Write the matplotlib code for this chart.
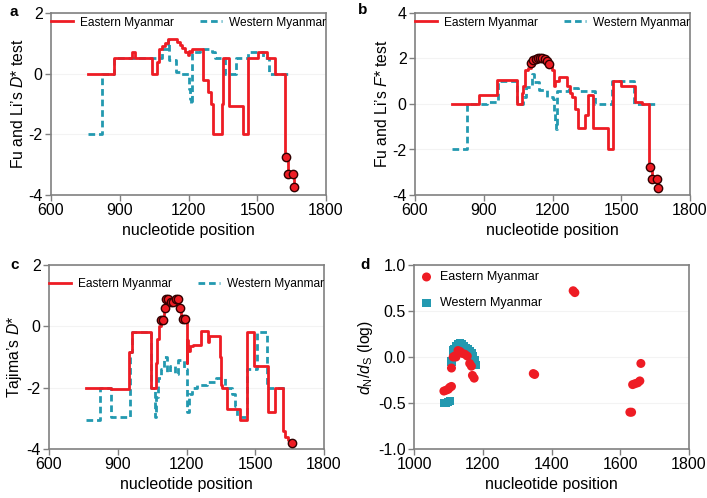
import matplotlib
matplotlib.use("Agg")
import matplotlib.pyplot as plt
from matplotlib.lines import Line2D

plt.rcParams['font.family'] = ['Liberation Sans', 'DejaVu Sans']
plt.rcParams['mathtext.fontset'] = 'custom'
plt.rcParams['mathtext.it'] = 'Liberation Sans:italic'
plt.rcParams['mathtext.rm'] = 'Liberation Sans'

RED = '#ee1c24'
TEAL = '#2399b0'

# ---------- Panel a: Fu and Li's D* ----------
a_east_x = [760, 877, 953, 967, 1040, 1062, 1070, 1084, 1098, 1112, 1150, 1162, 1171, 1185, 1197, 1203, 1207, 1214, 1263, 1285, 1300, 1307, 1346, 1351, 1375, 1381, 1438, 1461, 1466, 1502, 1541, 1577, 1620, 1625, 1632, 1657, 1660]
a_east_y = [0, 0.5, 0.7, 0.5, 0, 0.4, 0.8, 0.9, 1.0, 1.15, 1.05, 0.95, 0.85, 0.7, 0.6, 0.75, 0.7, 0.8, -0.2, -0.6, -1.0, -2.0, -1.0, 0.5, -1.05, -1.05, -2.0, 0.5, 0.5, 0.7, 0.5, 0, -2.75, -2.75, -3.3, -3.3, -3.75]
a_west_x = [760, 822, 877, 1062, 1084, 1111, 1117, 1145, 1165, 1200, 1207, 1213, 1216, 1250, 1302, 1316, 1358, 1408, 1460, 1526, 1552, 1640]
a_west_y = [-2, 0, 0.5, 0.5, 0.8, 1.1, 0.45, 0.05, 0.0, -0.5, -0.85, -1.0, 0.7, 0.8, 0.7, 0.5, 0, 0.5, 0.7, 0.5, 0, 0]
a_mark_x = [1625, 1632, 1657, 1660]
a_mark_y = [-2.75, -3.3, -3.3, -3.75]

# ---------- Panel b: Fu and Li's F* ----------
b_east_x = [760, 879, 960, 1044, 1065, 1073, 1082, 1095, 1105, 1116, 1125, 1170, 1185, 1196, 1206, 1211, 1228, 1262, 1276, 1284, 1298, 1313, 1320, 1343, 1356, 1374, 1378, 1441, 1466, 1499, 1558, 1589, 1619, 1625, 1632, 1655, 1660]
b_east_y = [0, 0.4, 1.05, 0, 0.5, 0.8, 1.5, 1.6, 1.8, 1.85, 1.9, 1.85, 1.75, 1.5, 0.8, 1.0, 1.2, 0.8, 0.5, 0.3, -0.2, -1.05, -1.05, -0.5, 0.4, 0.4, -1.05, -2.0, 1.0, 0.8, 0.1, 0, -2.75, -2.75, -3.3, -3.3, -3.7]
b_west_x = [760, 828, 913, 964, 1044, 1071, 1085, 1110, 1120, 1140, 1178, 1200, 1205, 1210, 1214, 1220, 1272, 1313, 1385, 1458, 1557, 1647]
b_west_y = [-2, 0, 0.1, 1.0, 0, 0.3, 0.75, 1.3, 0.95, 0.6, 0.3, 0.2, -0.4, -0.8, -1.1, 0.55, 0.7, 0.55, 0, 1.0, 0, 0]
b_mark_x = [1106, 1116, 1126, 1136, 1146, 1156, 1166, 1176, 1185, 1625, 1632, 1655, 1660]
b_mark_y = [1.82, 1.93, 1.98, 2.0, 2.0, 2.0, 1.97, 1.9, 1.78, -2.75, -3.3, -3.3, -3.7]

# ---------- Panel c: Tajima's D* ----------
c_east_x = [760, 872, 950, 962, 1043, 1065, 1072, 1080, 1090, 1100, 1108, 1125, 1150, 1168, 1178, 1200, 1203, 1208, 1215, 1229, 1263, 1292, 1297, 1346, 1352, 1357, 1377, 1434, 1466, 1496, 1554, 1584, 1622, 1630, 1644, 1659]
c_east_y = [-2.0, -2.05, -0.85, -0.2, -2.0, -1.2, -0.4, 0.0, 0.22, 0.6, 0.9, 0.8, 0.9, 0.6, 0.25, -1.2, -0.45, -0.8, -0.65, -0.6, -0.15, -0.5, -0.3, -1.0, -1.9, -2.0, -2.7, -3.05, -0.2, -1.3, -2.8, -2.0, -3.4, -3.6, -3.7, -3.8]
c_west_x = [760, 821, 872, 955, 962, 1043, 1062, 1068, 1075, 1090, 1100, 1115, 1130, 1150, 1165, 1190, 1204, 1210, 1222, 1245, 1290, 1330, 1370, 1400, 1410, 1420, 1466, 1506, 1552, 1644]
c_west_y = [-3.05, -2.0, -2.95, -0.85, -0.2, -2.0, -2.95, -2.3, -1.7, -1.4, -1.0, -1.5, -1.3, -1.55, -1.1, -1.4, -2.8, -2.2, -2.0, -1.9, -1.8, -1.7, -2.0, -2.2, -2.6, -2.95, -1.4, -0.2, -2.0, -2.0]
c_mark_x = [1088, 1098, 1104, 1112, 1120, 1132, 1142, 1155, 1164, 1172, 1183, 1195, 1659]
c_mark_y = [0.22, 0.22, 0.6, 0.9, 0.9, 0.78, 0.78, 0.9, 0.9, 0.6, 0.25, 0.25, -3.8]

# ---------- Panel d: dN/dS ----------
d_east_x = [1087, 1094, 1100, 1104, 1109, 1109, 1114, 1118, 1122, 1128, 1134, 1140, 1148, 1155, 1162, 1167, 1170, 1175, 1347, 1351, 1463, 1468, 1628, 1633, 1636, 1643, 1651, 1657, 1660]
d_east_y = [-0.37, -0.36, -0.35, -0.33, -0.32, -0.12, 0.0, 0.01, 0.0, 0.07, 0.06, 0.04, 0.03, 0.01, -0.07, -0.1, -0.2, -0.23, -0.18, -0.19, 0.72, 0.7, -0.6, -0.6, -0.3, -0.29, -0.28, -0.26, -0.07]
d_west_x = [1087, 1093, 1099, 1105, 1109, 1114, 1118, 1123, 1128, 1134, 1140, 1146, 1151, 1157, 1162, 1167, 1172, 1176, 1179]
d_west_y = [-0.5, -0.5, -0.49, -0.48, -0.05, 0.07, 0.09, 0.12, 0.14, 0.15, 0.14, 0.12, 0.1, 0.08, 0.06, 0.04, 0.01, -0.03, -0.09]

fig = plt.figure(figsize=(7.07, 4.98), dpi=100)

W = 275 / 707
axa = fig.add_axes([51 / 707, 1 - 195 / 498, W, 182 / 498])
axb = fig.add_axes([415 / 707, 1 - 195 / 498, W, 182 / 498])
axc = fig.add_axes([49 / 707, 1 - 449 / 498, W, 184 / 498])
axd = fig.add_axes([414 / 707, 1 - 449 / 498, W, 184 / 498])

DASH = (0, (2.4, 1.4))


def style(ax):
    for s in ax.spines.values():
        s.set_color('#808080')
        s.set_linewidth(1.2)
    ax.tick_params(axis='both', direction='out', length=4, width=1, color='#808080',
                   labelsize=11.5, pad=2)
    ax.yaxis.grid(True, color='#f3f3f3', lw=0.8)
    ax.set_axisbelow(True)


def steps(ax, ex, ey, wx, wy, mx, my, ylim, yticks, ylabel, anchor):
    ax.plot(wx, wy, drawstyle='steps-post', color=TEAL, lw=2.0, ls=DASH,
            label='Western Myanmar', zorder=2)
    ax.plot(ex, ey, drawstyle='steps-post', color=RED, lw=2.0, label='Eastern Myanmar',
            zorder=3)
    ax.plot(mx, my, ls='none', marker='o', ms=6, mfc=RED, mec='#300000', mew=1.0,
            zorder=4)
    ax.set_xlim(600, 1800)
    ax.set_xticks([600, 900, 1200, 1500, 1800])
    ax.set_ylim(*ylim)
    ax.set_yticks(yticks)
    ax.set_yticklabels([str(t) for t in yticks])
    ax.set_xlabel('nucleotide position', fontsize=11.5, labelpad=3)
    ax.set_ylabel(ylabel, fontsize=11.3, labelpad=2)
    h_e = Line2D([], [], color=RED, lw=2.0)
    h_w = Line2D([], [], color=TEAL, lw=2.0, ls=DASH)
    ax.legend([h_e, h_w], ['Eastern Myanmar', 'Western Myanmar'], ncol=2, frameon=False,
              loc='upper center', bbox_to_anchor=anchor, fontsize=8.6,
              handlelength=1.8, handletextpad=0.6, columnspacing=2.2, borderaxespad=0.2)
    style(ax)


steps(axa, a_east_x, a_east_y, a_west_x, a_west_y, a_mark_x, a_mark_y,
      (-4, 2), [-4, -2, 0, 2], "Fu and Li’s $D$* test", (0.5, 1.02))
steps(axb, b_east_x, b_east_y, b_west_x, b_west_y, b_mark_x, b_mark_y,
      (-4, 4), [-4, -2, 0, 2, 4], "Fu and Li’s $F$* test", (0.5, 1.02))
steps(axc, c_east_x, c_east_y, c_west_x, c_west_y, c_mark_x, c_mark_y,
      (-4, 2), [-4, -2, 0, 2], "Tajima’s $D$*", (0.5, 0.97))

# panel d
axd.scatter(d_west_x, d_west_y, marker='s', s=36, color=TEAL, edgecolors='none',
            label='Western Myanmar', zorder=2)
axd.scatter(d_east_x, d_east_y, marker='o', s=42, color=RED, edgecolors='none',
            label='Eastern Myanmar', zorder=3)
axd.set_xlim(1000, 1800)
axd.set_xticks([1000, 1200, 1400, 1600, 1800])
axd.set_ylim(-1.0, 1.0)
axd.set_yticks([-1.0, -0.5, 0.0, 0.5, 1.0])
axd.set_yticklabels(['-1.0', '-0.5', '0.0', '0.5', '1.0'])
axd.set_xlabel('nucleotide position', fontsize=11.5, labelpad=3)
axd.set_ylabel(r'$d_\mathrm{N}/d_\mathrm{S}$ (log)', fontsize=11.3, labelpad=2)
hd = axd.get_legend_handles_labels()
axd.legend([hd[0][1], hd[0][0]], [hd[1][1], hd[1][0]], loc='upper left', frameon=False,
           fontsize=9.0, handlelength=1.0, handletextpad=0.6, labelspacing=1.1,
           borderaxespad=0.2, borderpad=0.3)
style(axd)

for lab, x, y in [('a', 10, 12), ('b', 358, 10), ('c', 10, 265), ('d', 360, 265)]:
    fig.text(x / 707, 1 - y / 498, lab, fontsize=11, fontweight='bold', va='center',
             ha='left')

fig.savefig('out.png', dpi=100)
